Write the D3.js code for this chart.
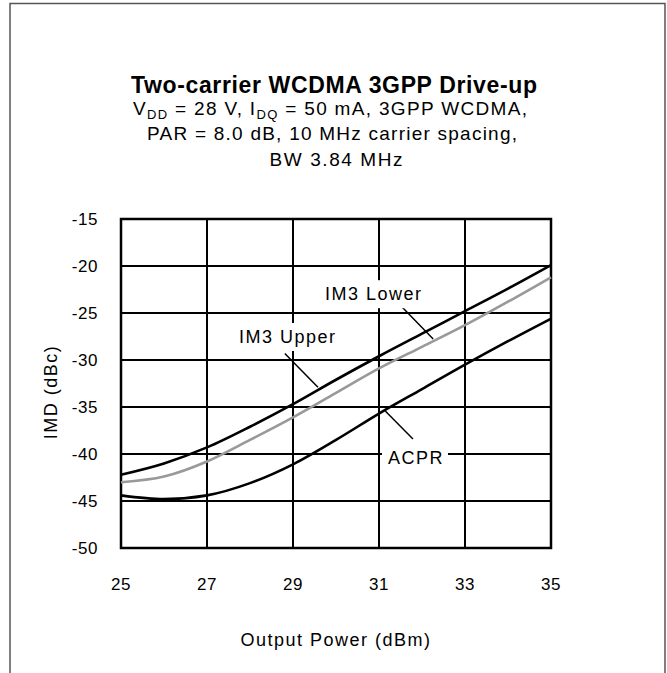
<!DOCTYPE html>
<html lang="en">
<head>
  <meta charset="utf-8">
  <title>Two-carrier WCDMA 3GPP Drive-up</title>
  <script src="https://d3js.org/d3.v7.min.js"></script>
  <style>
    body { margin: 0; background: #fff; }
    text { font-family: "Liberation Sans", Arial, sans-serif; fill: #000; }
  </style>
</head>
<body>
  <svg id="chart" width="667" height="673"></svg>
  <script>
    // output power (dBm)
    const pout = [25, 26, 27, 28, 29, 30, 31, 32, 33, 34, 35];
    // IMD values (dBc)
    const im3Upper = [-42.2, -41.0, -39.3, -37.1, -34.7, -32.1, -29.6, -27.2, -24.8, -22.4, -19.9];
    const im3Lower = [-43.0, -42.4, -40.8, -38.5, -36.1, -33.5, -30.9, -28.6, -26.3, -23.8, -21.2];
    const acpr     = [-44.4, -44.8, -44.4, -43.1, -41.1, -38.5, -35.7, -33.1, -30.5, -28.0, -25.6];

    const xTicks = [25, 27, 29, 31, 33, 35];
    const yTicks = [-50, -45, -40, -35, -30, -25, -20, -15];

    // callouts: label position and leader line, in data units
    const callouts = [
      { text: "IM3 Upper", x: 28.88, y: -27.55, from: [28.81, -29.3], to: [29.58, -32.9] },
      { text: "IM3 Lower", x: 30.88, y: -23.0, from: [31.49, -24.15], to: [32.26, -27.77] },
      { text: "ACPR", x: 31.86, y: -40.4, from: [31.79, -38.4], to: [31.14, -35.4] }
    ];

    const svg = d3.select("#chart");

    // outer frame
    svg.append("rect")
      .attr("x", 10).attr("y", 3.5)
      .attr("width", 655).attr("height", 690)
      .attr("fill", "none").attr("stroke", "#555").attr("stroke-width", 1.5);

    // titles
    svg.append("text")
      .attr("x", 334).attr("y", 93)
      .attr("text-anchor", "middle")
      .attr("font-size", "23px").attr("font-weight", "bold")
      .attr("textLength", 406).attr("lengthAdjust", "spacing")
      .text("Two-carrier WCDMA 3GPP Drive-up");

    const sub1 = svg.append("text")
      .attr("x", 330).attr("y", 115)
      .attr("text-anchor", "middle").attr("font-size", "19px")
      .attr("textLength", 394).attr("lengthAdjust", "spacing");
    sub1.append("tspan").text("V");
    sub1.append("tspan").attr("dy", 4).attr("font-size", "13px").text("DD");
    sub1.append("tspan").attr("dy", -4).text(" = 28 V, I");
    sub1.append("tspan").attr("dy", 4).attr("font-size", "13px").text("DQ");
    sub1.append("tspan").attr("dy", -4).text(" = 50 mA, 3GPP WCDMA,");

    svg.append("text")
      .attr("x", 332).attr("y", 140)
      .attr("text-anchor", "middle").attr("font-size", "19px")
      .attr("textLength", 370).attr("lengthAdjust", "spacing")
      .text("PAR = 8.0 dB, 10 MHz carrier spacing,");

    svg.append("text")
      .attr("x", 336).attr("y", 166)
      .attr("text-anchor", "middle").attr("font-size", "19px")
      .attr("textLength", 133).attr("lengthAdjust", "spacing")
      .text("BW 3.84  MHz");

    // scales
    const x = d3.scaleLinear().domain([25, 35]).range([121, 551]);
    const y = d3.scaleLinear().domain([-50, -15]).range([548, 219]);

    const plot = svg.append("g");

    // grid
    plot.selectAll(".vgrid")
      .data(xTicks)
      .enter().append("line")
      .attr("x1", d => x(d)).attr("x2", d => x(d))
      .attr("y1", y(-50)).attr("y2", y(-15))
      .attr("stroke", "#000").attr("stroke-width", 2);

    plot.selectAll(".hgrid")
      .data(yTicks)
      .enter().append("line")
      .attr("x1", x(25)).attr("x2", x(35))
      .attr("y1", d => y(d)).attr("y2", d => y(d))
      .attr("stroke", "#000").attr("stroke-width", 2);

    plot.append("rect")
      .attr("x", x(25)).attr("y", y(-15))
      .attr("width", x(35) - x(25)).attr("height", y(-50) - y(-15))
      .attr("fill", "none").attr("stroke", "#000").attr("stroke-width", 2.5);

    // tick labels
    svg.selectAll(".xlab")
      .data(xTicks)
      .enter().append("text")
      .attr("x", d => x(d)).attr("y", 590)
      .attr("text-anchor", "middle").attr("font-size", "17px")
      .attr("letter-spacing", "0.6px")
      .text(d => d);

    svg.selectAll(".ylab")
      .data(yTicks)
      .enter().append("text")
      .attr("x", 98).attr("y", d => y(d) + 6)
      .attr("text-anchor", "end").attr("font-size", "17px")
      .attr("letter-spacing", "0.6px")
      .text(d => d);

    // axis titles
    svg.append("text")
      .attr("x", 336).attr("y", 646)
      .attr("text-anchor", "middle").attr("font-size", "18px")
      .attr("letter-spacing", "1.5px")
      .text("Output Power (dBm)");

    svg.append("text")
      .attr("transform", "translate(57, 392) rotate(-90)")
      .attr("text-anchor", "middle").attr("font-size", "18px")
      .attr("letter-spacing", "1.5px")
      .text("IMD (dBc)");

    // callout label boxes (mask the grid)
    const labels = svg.append("g");
    callouts.forEach(c => {
      const t = labels.append("text")
        .attr("x", x(c.x)).attr("y", y(c.y) + 6)
        .attr("text-anchor", "middle").attr("font-size", "18px")
        .attr("letter-spacing", "1.5px")
        .text(c.text);
      const b = t.node().getBBox();
      labels.insert("rect", "text")
        .attr("x", b.x - 6).attr("y", b.y - 4)
        .attr("width", b.width + 10).attr("height", b.height + 8)
        .attr("fill", "#fff");
    });

    // curves
    const series = [
      { name: "IM3 Upper", values: im3Upper, color: "#000" },
      { name: "IM3 Lower", values: im3Lower, color: "#999" },
      { name: "ACPR", values: acpr, color: "#000" }
    ];

    const line = d3.line()
      .x((d, i) => x(pout[i]))
      .y(d => y(d))
      .curve(d3.curveMonotoneX);

    svg.selectAll(".curve")
      .data(series)
      .enter().append("path")
      .attr("d", d => line(d.values))
      .attr("fill", "none")
      .attr("stroke", d => d.color)
      .attr("stroke-width", 2.6);

    // leader lines
    svg.selectAll(".leader")
      .data(callouts)
      .enter().append("line")
      .attr("x1", d => x(d.from[0])).attr("y1", d => y(d.from[1]))
      .attr("x2", d => x(d.to[0])).attr("y2", d => y(d.to[1]))
      .attr("stroke", "#000").attr("stroke-width", 1.5);

    labels.raise();
  </script>
</body>
</html>
